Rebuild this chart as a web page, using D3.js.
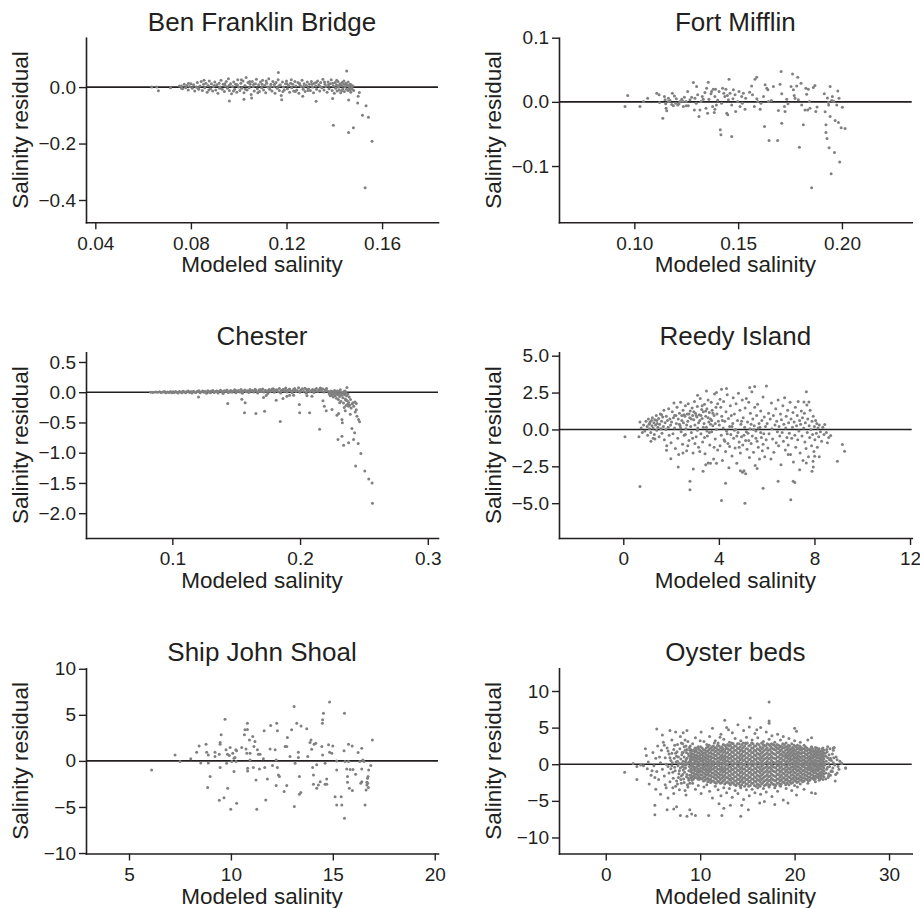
<!DOCTYPE html>
<html><head><meta charset="utf-8">
<script src="https://cdn.jsdelivr.net/npm/d3@7"></script>
<style>
body{margin:0;background:#fff}
svg text{font-family:"Liberation Sans",Arial,Helvetica,sans-serif;fill:#231f20}
</style>
</head><body>
<svg id="chart" width="920" height="908"></svg>
<script>
// ---------- DATA ----------
const titles = ["Ben Franklin Bridge","Fort Mifflin","Chester","Reedy Island","Ship John Shoal","Oyster beds"];
const xLabel = "Modeled salinity";
const yLabel = "Salinity residual";

const benFranklin = [
[0.0636,0.000],[0.0657,0.000],[0.0664,-0.013],[0.0715,-0.002],[0.0752,0.004],[0.0761,-0.004],
[0.0760,0.004],[0.0765,-0.006],[0.0772,0.010],[0.0778,-0.002],[0.0783,0.006],[0.0789,-0.010],[0.0795,0.002],[0.0800,0.012],[0.0806,-0.004],[0.0811,0.008],
[0.0816,-0.014],[0.0822,0.000],[0.0827,0.016],[0.0833,-0.008],[0.0838,0.004],[0.0843,0.020],[0.0848,-0.012],[0.0853,0.010],[0.0858,-0.002],[0.0863,0.014],
[0.0868,-0.018],[0.0872,0.006],[0.0877,0.022],[0.0882,-0.006],[0.0886,0.012],[0.0891,-0.014],[0.0895,0.002],[0.0900,0.018],[0.0904,-0.010],[0.0909,0.008],
[0.0913,-0.022],[0.0918,0.014],[0.0922,0.000],[0.0926,0.024],[0.0931,-0.008],[0.0935,0.010],[0.0940,-0.016],[0.0944,0.004],[0.0948,0.020],[0.0953,-0.004],
[0.0957,0.030],[0.0961,-0.012],[0.0966,0.012],[0.0970,-0.024],[0.0974,0.002],[0.0979,0.018],[0.0983,-0.008],[0.0987,0.010],[0.0992,-0.018],[0.0996,0.026],
[0.1000,0.000],[0.1005,-0.012],[0.1009,0.014],[0.1013,-0.004],[0.1018,0.022],[0.1022,-0.020],[0.1026,0.006],[0.1031,0.034],[0.1035,-0.010],[0.1039,0.016],
[0.1044,-0.002],[0.1048,0.010],[0.1052,-0.026],[0.1057,0.020],[0.1061,0.002],[0.1065,-0.014],[0.1070,0.012],[0.1074,0.028],[0.1078,-0.006],[0.1083,0.008],
[0.1087,-0.016],[0.1091,0.018],[0.1096,-0.002],[0.1100,0.024],[0.1104,-0.010],[0.1109,0.006],[0.1113,-0.020],[0.1117,0.014],[0.1122,0.000],[0.1126,0.030],
[0.1130,-0.008],[0.1135,0.010],[0.1139,-0.014],[0.1143,0.020],[0.1148,0.002],[0.1152,-0.022],[0.1156,0.016],[0.1161,-0.004],[0.1165,0.026],[0.1170,-0.012],
[0.1174,0.008],[0.1178,-0.030],[0.1183,0.018],[0.1187,0.000],[0.1191,-0.010],[0.1196,0.012],[0.1200,0.022],[0.1204,-0.006],[0.1209,0.006],[0.1213,-0.018],
[0.1217,0.014],[0.1222,-0.002],[0.1226,0.010],[0.1230,-0.014],[0.1235,0.020],[0.1239,0.004],[0.1243,-0.010],[0.1248,0.016],[0.1252,-0.022],[0.1256,0.008],
[0.1261,0.002],[0.1265,0.024],[0.1270,-0.008],[0.1274,0.012],[0.1278,-0.016],[0.1283,0.006],[0.1287,0.018],[0.1291,-0.004],[0.1296,0.010],[0.1300,-0.012],
[0.1304,0.020],[0.1309,0.000],[0.1313,-0.020],[0.1317,0.014],[0.1322,0.004],[0.1326,-0.008],[0.1330,0.022],[0.1335,0.008],[0.1339,-0.014],[0.1343,0.016],
[0.1348,-0.002],[0.1352,0.028],[0.1357,-0.010],[0.1361,0.010],[0.1365,0.002],[0.1370,-0.018],[0.1374,0.018],[0.1378,-0.006],[0.1383,0.012],[0.1387,0.026],
[0.1391,-0.012],[0.1396,0.004],[0.1400,-0.022],[0.1403,0.016],[0.1406,-0.004],[0.1409,0.008],[0.1412,-0.014],[0.1415,0.020],[0.1418,0.000],[0.1421,-0.010],
[0.1424,0.012],[0.1427,-0.020],[0.1430,0.006],[0.1433,0.016],[0.1436,-0.006],[0.1439,0.010],[0.1442,-0.016],[0.1445,0.002],[0.1448,0.014],[0.1451,-0.008],
[0.1454,0.006],[0.1457,-0.012],[0.1460,0.004],[0.1463,-0.004],[0.1466,0.010],[0.1469,-0.018],[0.1472,0.000],[0.1475,-0.008],[0.1478,0.004],[0.1481,-0.012],
[0.0790,0.014],[0.0830,-0.004],[0.0855,0.024],[0.0875,-0.010],[0.0898,0.006],[0.0920,-0.004],[0.0942,0.012],[0.0960,0.006],[0.0978,-0.014],[0.0994,0.008],
[0.1011,0.026],[0.1028,-0.008],[0.1046,0.020],[0.1063,0.010],[0.1080,-0.020],[0.1098,0.010],[0.1115,0.022],[0.1133,0.002],[0.1150,0.010],[0.1168,0.004],
[0.1185,-0.016],[0.1202,0.012],[0.1220,0.026],[0.1237,-0.016],[0.1254,0.014],[0.1272,0.002],[0.1290,-0.012],[0.1307,0.010],[0.1324,0.016],[0.1341,0.002],
[0.1359,0.018],[0.1376,0.008],[0.1393,0.014],[0.1410,0.024],[0.1420,0.006],[0.1432,-0.012],[0.1440,0.022],[0.1450,0.010],[0.1458,0.018],[0.1465,-0.010],[0.1470,0.008],
[0.1166,0.052],[0.1452,0.057],[0.0961,-0.049],[0.1022,-0.043],[0.1054,-0.039],[0.1180,-0.045],[0.1268,-0.032],[0.1324,-0.050],[0.1393,-0.040],[0.1460,-0.046],
[0.1500,-0.032],[0.1498,-0.056],[0.1505,-0.019],[0.1533,-0.066],[0.1518,-0.100],[0.1543,-0.107],[0.1396,-0.135],[0.1480,-0.144],[0.1460,-0.161],[0.1558,-0.192],[0.1529,-0.357]
];

const fortMifflin = [
[0.0955,-0.0073],[0.0968,0.0099],[0.1027,-0.0073],[0.1044,0.0005],[0.1064,0.0057],[0.1108,0.0135],[0.1119,0.0109],[0.1121,-0.0010],[0.1137,-0.0254],[0.1145,0.0083],
[0.1148,0.0031],[0.1151,-0.0031],[0.1153,-0.0099],[0.1156,-0.0140],[0.1164,0.0057],[0.1164,0.0005],[0.1183,0.0135],[0.1188,-0.0062],[0.1193,0.0093],[0.1199,-0.0021],
[0.1209,-0.0047],[0.1220,0.0005],[0.1228,0.0042],[0.1236,-0.0073],[0.1241,0.0073],[0.1249,0.0005],[0.1257,0.0161],[0.1260,-0.0062],[0.1268,0.0031],[0.1284,0.0301],
[0.1289,-0.0125],[0.1292,0.0057],[0.1300,0.0239],[0.1305,0.0109],[0.1311,-0.0228],[0.1316,-0.0125],[0.1321,0.0005],[0.1327,0.0083],[0.1340,0.0145],[0.1348,0.0213],
[0.1353,-0.0177],[0.1356,0.0306],[0.1359,0.0042],[0.1369,0.0125],[0.1377,-0.0073],[0.1380,0.0197],[0.1385,-0.0166],[0.1388,0.0083],[0.1388,-0.0114],[0.1391,0.0197],
[0.1401,0.0026],[0.1408,0.0161],[0.1414,-0.0436],[0.1417,-0.0514],[0.1420,-0.0021],[0.1425,0.0213],[0.1431,0.0135],[0.1436,0.0083],[0.1441,0.0197],[0.1445,-0.0177],
[0.1450,-0.0202],[0.1453,0.0031],[0.1456,0.0353],[0.1461,0.0135],[0.1469,-0.0540],[0.1469,-0.0047],[0.1477,0.0187],[0.1485,0.0109],[0.1488,-0.0151],[0.1498,0.0005],
[0.1504,0.0161],[0.1509,-0.0073],[0.1517,0.0083],[0.1525,0.0135],[0.1533,-0.0114],[0.1536,0.0057],[0.1565,0.0249],[0.1569,0.0109],[0.1578,-0.0073],[0.1581,0.0353],
[0.1589,0.0384],[0.1594,0.0005],[0.1606,-0.0114],[0.1610,-0.0021],[0.1622,0.0083],[0.1627,-0.0384],[0.1630,0.0265],[0.1638,0.0213],[0.1643,0.0187],[0.1646,0.0005],
[0.1649,-0.0602],[0.1670,0.0239],[0.1690,-0.0602],[0.1694,-0.0135],[0.1702,0.0275],[0.1707,0.0472],[0.1710,0.0125],[0.1710,-0.0332],[0.1723,-0.0073],[0.1726,-0.0151],
[0.1734,0.0042],[0.1755,0.0239],[0.1762,0.0436],[0.1766,0.0187],[0.1774,0.0057],[0.1782,0.0249],[0.1787,0.0384],[0.1790,0.0031],[0.1795,-0.0706],[0.1803,0.0291],
[0.1806,-0.0047],[0.1814,-0.0358],[0.1822,-0.0125],[0.1826,0.0213],[0.1830,0.0119],[0.1835,-0.0125],[0.1838,0.0197],[0.1843,0.0005],[0.1846,-0.0099],[0.1854,-0.1338],
[0.1862,0.0223],[0.1870,0.0254],[0.1874,-0.0151],[0.1915,0.0125],[0.1919,-0.0156],[0.1923,-0.0358],[0.1923,-0.0478],[0.1928,-0.0571],[0.1935,-0.0010],[0.1936,-0.0047],
[0.1938,-0.0716],[0.1943,0.0239],[0.1943,-0.0228],[0.1948,-0.1120],[0.1951,0.0021],[0.1954,0.0083],[0.1964,-0.0789],[0.1967,-0.0290],[0.1980,0.0171],[0.1983,-0.0322],
[0.1986,0.0057],[0.1989,-0.0939],[0.1996,-0.0405],[0.2002,-0.0083],[0.2015,-0.0415],
[0.1172,0.0020],[0.1180,-0.0040],[0.1202,0.0050],[0.1215,-0.0030],[0.1233,0.0010],[0.1250,-0.0060],[0.1276,0.0070],[0.1298,-0.0020],[0.1332,0.0040],[0.1345,-0.0100],
[0.1372,0.0160],[0.1395,-0.0050],[0.1448,0.0100],[0.1475,0.0050],[0.1520,-0.0020],[0.1555,0.0150],[0.1590,0.0050],[0.1660,0.0020],[0.1740,-0.0030],[0.1770,0.0100],
[0.1880,-0.0080],[0.1930,0.0060],[0.1975,-0.0050],[0.1960,0.0010]
];

const chester = [
[0.0830,0.000],[0.0850,-0.005],[0.0870,0.005],[0.0885,-0.002],[0.0900,0.008],[0.0912,-0.006],[0.0925,0.002],[0.0938,0.010],[0.0950,-0.008],[0.0962,0.004],
[0.0975,-0.003],[0.0985,0.012],[0.0995,-0.010],[0.1005,0.006],[0.1015,-0.004],[0.1025,0.014],[0.1035,0.000],[0.1045,-0.012],[0.1055,0.010],[0.1065,0.004],
[0.1075,-0.008],[0.1085,0.016],[0.1095,0.002],[0.1105,-0.010],[0.1115,0.012],[0.1125,0.020],[0.1135,-0.004],[0.1145,0.008],[0.1155,-0.014],[0.1165,0.018],
[0.1175,0.004],[0.1185,-0.006],[0.1195,0.014],[0.1208,0.024],[0.1218,-0.010],[0.1228,0.006],[0.1238,0.020],[0.1248,-0.002],[0.1258,0.012],[0.1268,-0.016],
[0.1278,0.026],[0.1288,0.004],[0.1298,-0.008],[0.1308,0.016],[0.1318,0.030],[0.1328,-0.004],[0.1338,0.010],[0.1348,0.022],[0.1358,-0.012],[0.1368,0.018],
[0.1378,0.034],[0.1388,0.002],[0.1398,-0.020],[0.1408,0.024],[0.1418,0.010],[0.1428,0.038],[0.1438,-0.006],[0.1448,0.016],[0.1458,0.028],[0.1468,0.000],
[0.1478,0.020],[0.1488,0.040],[0.1498,-0.010],[0.1508,0.014],[0.1518,0.030],[0.1528,0.004],[0.1538,0.046],[0.1548,-0.016],[0.1558,0.022],[0.1568,0.036],
[0.1578,0.008],[0.1588,0.026],[0.1598,-0.006],[0.1608,0.044],[0.1618,0.016],[0.1628,0.030],[0.1638,0.002],[0.1648,0.050],[0.1658,0.020],[0.1668,-0.012],
[0.1678,0.038],[0.1688,0.010],[0.1698,0.028],[0.1708,0.052],[0.1718,0.004],[0.1728,0.034],[0.1738,0.018],[0.1748,-0.020],[0.1758,0.044],[0.1768,0.012],
[0.1778,0.030],[0.1788,0.056],[0.1798,0.000],[0.1808,0.024],[0.1818,0.040],[0.1828,0.010],[0.1838,0.060],[0.1848,-0.014],[0.1858,0.032],[0.1868,0.048],
[0.1878,0.016],[0.1888,0.070],[0.1898,0.004],[0.1908,0.036],[0.1918,0.054],[0.1928,0.020],[0.1938,-0.010],[0.1948,0.044],[0.1958,0.062],[0.1968,0.012],
[0.1978,0.030],[0.1988,0.076],[0.1998,0.000],[0.2008,0.040],[0.2018,0.058],[0.2028,0.018],[0.2038,0.066],[0.2048,-0.016],[0.2058,0.034],[0.2068,0.050],
[0.2078,0.008],[0.2088,0.026],[0.2098,0.044],[0.2108,-0.004],[0.2118,0.030],[0.2128,0.060],[0.2138,0.014],[0.2148,0.040],[0.2158,0.070],[0.2168,0.020],
[0.2178,0.052],[0.2188,0.004],[0.2198,0.036],[0.2208,0.060],[0.2218,0.016],
[0.0940,0.004],[0.1010,-0.002],[0.1080,0.006],[0.1150,0.002],[0.1200,0.010],[0.1250,0.008],[0.1300,0.018],[0.1350,0.006],[0.1400,0.016],[0.1450,0.002],
[0.1500,0.024],[0.1550,0.010],[0.1600,0.020],[0.1650,0.034],[0.1700,0.014],[0.1750,0.026],[0.1800,0.042],[0.1850,0.020],[0.1900,0.028],[0.1950,0.030],
[0.2000,0.020],[0.2050,0.048],[0.2100,0.022],[0.2150,0.028],[0.2200,0.044],[0.2165,0.060],[0.2120,0.046],[0.2060,0.020],[0.1960,0.040],[0.1880,0.036],
[0.1780,0.050],[0.1690,0.046],[0.1610,0.030],
[0.2240,0.02],[0.2245,-0.02],[0.2250,-0.05],[0.2255,0.01],[0.2260,-0.08],[0.2265,-0.03],[0.2270,0.03],[0.2275,-0.06],[0.2280,-0.01],[0.2285,-0.10],
[0.2290,0.02],[0.2295,-0.04],[0.2300,-0.12],[0.2305,-0.02],[0.2310,-0.07],[0.2315,0.04],[0.2320,-0.15],[0.2325,-0.05],[0.2330,-0.01],[0.2335,-0.09],
[0.2340,-0.18],[0.2345,0.01],[0.2350,-0.04],[0.2355,-0.11],[0.2360,-0.22],[0.2365,-0.06],[0.2370,-0.14],[0.2375,-0.03],[0.2380,-0.17],[0.2385,-0.08],
[0.2390,-0.21],[0.2395,-0.12],[0.2400,-0.26],[0.2410,-0.19],[0.2420,-0.23],[0.2430,-0.16],[0.2440,-0.29],[0.2228,-0.03],[0.2232,0.00],[0.2236,-0.06],
[0.2262,0.00],[0.2288,-0.03],[0.2302,0.01],[0.2318,-0.02],[0.2342,-0.03],[0.2352,0.02],[0.2358,-0.01],
[0.1205,-0.077],[0.1434,-0.187],[0.1544,-0.116],[0.1570,-0.176],[0.1565,-0.341],[0.1654,-0.352],[0.1714,-0.088],[0.1722,-0.314],[0.1735,-0.055],[0.1813,-0.132],
[0.1845,-0.484],[0.1866,-0.105],[0.1897,-0.066],[0.1918,-0.050],[0.1950,-0.050],[0.1994,-0.204],[0.1997,-0.341],[0.2054,-0.060],[0.2075,-0.341],[0.2093,-0.066],
[0.2153,-0.611],[0.2179,-0.143],[0.2190,-0.231],[0.2205,-0.308],[0.2250,-0.286],[0.2289,-0.380],[0.2302,-0.352],[0.2297,-0.781],[0.2310,-0.176],[0.2328,-0.451],
[0.2331,-0.506],[0.2328,-0.726],[0.2341,-0.875],[0.2346,-0.253],[0.2354,-0.308],[0.2359,-0.132],[0.2367,0.077],[0.2372,-0.198],[0.2380,-0.836],[0.2380,-0.231],
[0.2393,-0.363],[0.2406,-0.600],[0.2414,-0.176],[0.2419,-0.781],[0.2427,-0.671],[0.2432,-0.325],[0.2440,-0.187],[0.2435,-1.221],[0.2445,-0.396],[0.2455,-0.847],
[0.2458,-0.451],[0.2466,-0.490],[0.2476,-1.012],[0.2507,-1.304],[0.2538,-1.436],[0.2564,-1.502],[0.2567,-1.837]
];

const reedyIsland = [
[0.071,-0.50],[0.656,-0.50],[0.698,-3.86],[0.698,0.50],[1.157,-0.80],[1.324,-0.64],[1.81,-1.41],[1.99,-1.98],[2.30,-2.55],[2.79,-3.52],
[2.79,-4.09],[2.93,-2.68],[3.34,-2.84],[3.55,-2.27],[3.48,2.61],[3.11,2.32],[3.90,2.50],[4.11,2.73],[4.11,-4.82],[4.32,2.77],
[4.28,-3.64],[5.09,-5.00],[4.99,-2.91],[5.29,2.84],[5.50,2.91],[5.99,2.95],[5.85,-3.98],[6.48,-3.52],[6.90,-1.70],[7.01,-4.77],
[7.11,-3.52],[7.18,-3.59],[7.66,2.55],[7.56,1.86],[7.77,1.86],[8.96,-2.16],[9.17,-1.02],[9.26,-1.48],[8.43,0.34],[8.68,-0.41],
[8.54,-0.91],[8.01,-1.82],[7.94,-2.16],[7.90,-2.84],[7.66,-2.27],[7.38,-2.73],
[0.85,0.30],[0.90,-0.10],[0.95,0.55],[1.00,0.20],[1.02,-0.40],[1.05,0.70],[1.08,0.35],[1.10,0.05],[1.12,0.50],[1.15,-0.20],
[1.18,0.60],[1.20,0.25],[1.22,0.80],[1.25,0.10],[1.28,0.45],[1.30,-0.35],[1.32,0.65],[1.35,0.30],[1.38,0.95],[1.40,-0.05],
[1.42,0.40],[1.45,0.15],[1.48,0.75],[1.50,-0.50],[1.52,0.35],[1.55,1.05],[1.58,0.05],[1.60,0.55],[1.62,-0.25],[1.65,0.85],
[1.68,0.20],[1.70,1.30],[1.72,-0.70],[1.75,0.45],[1.78,0.00],[1.80,0.90],[1.82,-1.10],[1.85,0.60],[1.88,0.15],[1.90,1.40],
[1.92,-0.40],[1.95,0.70],[1.98,0.30],[2.00,-0.90],[1.25,-0.60],[1.40,0.60],[1.60,1.00],[1.10,0.40],[0.75,0.10],[0.80,-0.20],
[2.02,0.50],[2.05,1.20],[2.08,-0.30],[2.10,0.80],[2.12,1.80],[2.15,0.10],[2.18,-1.30],[2.20,0.95],[2.22,0.40],[2.25,1.50],
[2.28,-0.60],[2.30,0.70],[2.32,-1.70],[2.35,1.10],[2.38,0.25],[2.40,1.85],[2.42,-0.15],[2.45,0.60],[2.48,-1.00],[2.50,1.30],
[2.52,0.45],[2.55,-0.40],[2.58,0.90],[2.60,1.60],[2.62,0.05],[2.65,-1.45],[2.68,1.05],[2.70,0.55],[2.72,1.75],[2.75,-0.75],
[2.78,0.80],[2.80,1.25],[2.82,0.20],[2.85,-0.20],[2.88,1.45],[2.90,0.95],[2.92,-1.60],[2.95,0.65],[2.98,1.90],[3.00,0.30],
[3.02,1.10],[3.05,-0.50],[3.08,0.85],[3.10,1.55],[3.12,0.10],[3.15,-1.20],[3.18,1.00],[3.20,0.60],[3.22,2.10],[3.25,-0.30],
[3.28,1.35],[3.30,0.75],[3.32,-0.85],[3.35,1.20],[3.38,0.40],[3.40,1.70],[3.42,-1.65],[3.45,0.90],[3.48,0.15],[3.50,1.40],
[3.52,-0.45],[3.55,2.00],[3.58,0.50],[3.60,1.15],[3.62,-1.05],[3.65,0.70],[3.68,1.85],[3.70,-0.15],[3.72,1.30],[3.75,0.25],
[3.78,-2.00],[3.80,0.95],[3.82,2.40],[3.85,-0.65],[3.88,1.50],[3.90,0.00],[3.92,1.05],[3.95,-1.40],[3.98,0.55],
[2.15,0.95],[2.35,0.35],[2.55,1.00],[2.75,1.05],[2.85,0.70],[2.95,1.20],[3.05,0.95],[3.15,0.45],[3.25,0.95],[3.35,0.15],
[3.45,1.25],[3.55,0.80],[3.65,0.35],[3.75,1.10],[3.85,0.40],[2.65,0.30],[2.45,0.95],[3.10,-0.05],[3.30,1.60],[3.50,-0.10],
[3.70,0.60],[2.90,-0.60],[3.00,-0.95],[3.20,-1.50],[3.40,-0.55],[3.60,-0.20],[3.80,-1.20],[2.70,-1.10],[2.50,-1.60],[3.90,-2.30],
[3.65,-2.30],[2.40,0.10],[2.60,-0.35],[3.95,1.75],[3.45,-2.40],
[4.02,0.30],[4.05,-1.10],[4.08,1.50],[4.10,-0.40],[4.12,0.90],[4.15,-2.10],[4.18,0.10],[4.20,1.90],[4.22,-0.70],[4.25,0.55],
[4.28,-1.50],[4.30,1.20],[4.32,-0.10],[4.35,2.35],[4.38,-0.95],[4.40,0.75],[4.42,-2.60],[4.45,0.20],[4.48,1.60],[4.50,-0.35],
[4.52,0.95],[4.55,-1.80],[4.58,0.40],[4.60,2.15],[4.62,-0.60],[4.65,1.05],[4.68,-1.25],[4.70,0.00],[4.72,1.75],[4.75,-2.30],
[4.78,0.60],[4.80,-0.20],[4.82,2.45],[4.85,-0.85],[4.88,1.30],[4.90,-1.60],[4.92,0.35],[4.95,-0.50],[4.98,2.00],[5.00,-1.05],
[5.02,0.80],[5.05,-2.80],[5.08,0.15],[5.10,1.45],[5.12,-0.75],[5.15,2.10],[5.18,-1.35],[5.20,0.50],[5.22,-0.25],[5.25,1.85],
[5.28,-1.90],[5.30,0.05],[5.32,1.10],[5.35,-0.95],[5.38,2.55],[5.40,-0.45],[5.42,0.70],[5.45,-1.55],[5.48,0.25],[5.50,1.50],
[5.52,-2.45],[5.55,-0.10],[5.58,0.95],[5.60,-0.80],[5.62,1.70],[5.65,-1.20],[5.68,0.40],[5.70,-2.00],[5.72,0.15],[5.75,1.25],
[5.78,-0.55],[5.80,0.60],[5.82,-1.45],[5.85,2.20],[5.88,-0.30],[5.90,0.85],[5.92,-1.85],[5.95,0.20],[5.98,-0.70],
[4.15,0.60],[4.35,-0.30],[4.55,0.20],[4.75,-0.45],[4.95,0.55],[5.15,-0.15],[5.35,0.35],[5.55,-0.60],[5.75,-0.20],[4.25,-0.80],
[4.45,-1.15],[4.65,-0.05],[4.85,-1.20],[5.05,-0.40],[5.25,-0.75],[5.45,0.00],[5.65,0.10],[5.85,-1.00],[4.05,2.05],[5.60,-2.65],
[5.12,-3.00],[4.90,-2.80],
[6.02,0.40],[6.05,-1.25],[6.08,1.10],[6.10,-0.30],[6.15,0.70],[6.18,-2.00],[6.20,1.80],[6.22,0.05],[6.25,-0.65],[6.28,0.95],
[6.30,-1.55],[6.35,0.30],[6.38,1.40],[6.40,-0.90],[6.42,0.55],[6.45,-0.15],[6.48,2.00],[6.50,-1.10],[6.52,0.20],[6.55,-0.45],
[6.58,1.05],[6.60,-2.40],[6.62,0.65],[6.65,-0.20],[6.68,1.60],[6.70,-0.80],[6.72,0.35],[6.75,2.15],[6.78,-1.40],[6.80,0.10],
[6.82,0.90],[6.85,-0.55],[6.88,1.30],[6.90,-1.05],[6.92,0.45],[6.95,-0.25],[6.98,1.85],[7.00,-1.70],[7.02,0.70],[7.05,-0.60],
[7.08,0.15],[7.10,1.15],[7.12,-2.20],[7.15,0.50],[7.18,-0.40],[7.20,1.50],[7.22,-1.20],[7.25,0.25],[7.28,0.95],[7.30,-0.70],
[7.32,1.90],[7.35,-0.10],[7.38,0.60],[7.40,-1.60],[7.42,0.35],[7.45,1.25],[7.48,-0.45],[7.50,0.80],[7.52,-2.10],[7.55,0.10],
[7.58,1.10],[7.60,-0.85],[7.62,0.45],[7.65,-1.30],[7.68,1.65],[7.70,-0.20],[7.72,0.70],[7.75,-1.85],[7.78,0.25],[7.80,-0.55],
[7.82,1.30],[7.85,0.00],[7.88,-1.10],[7.90,0.55],[7.92,-0.35],[7.95,0.90],[7.98,-1.50],[8.00,0.20],[8.02,-0.70],[8.05,0.60],
[8.08,-0.25],[8.10,0.40],[8.12,-1.20],[8.15,0.10],[8.18,-0.50],[8.20,0.30],[8.25,-0.15],[8.30,-0.80],[8.35,0.15],[8.40,-0.35],
[8.50,-0.20],[8.60,-0.55],[8.20,-1.85],[7.95,-2.55]
];

const shipJohnShoal = [
[6.11,-0.98],[7.26,0.65],[7.50,-0.07],[8.03,0.22],[8.32,0.94],[8.44,1.63],[8.52,-0.22],[8.78,1.81],[8.81,0.94],[8.89,0.65],
[8.89,-0.22],[8.86,-2.90],[8.98,-1.70],[9.22,0.94],[9.22,0.47],[9.43,0.72],[9.47,1.81],[9.47,1.99],[9.52,2.83],[9.47,-0.72],
[9.43,-4.28],[9.66,-3.99],[9.71,4.53],[9.76,1.20],[9.83,0.72],[9.79,-0.25],[9.84,-2.97],[9.92,0.58],[9.96,1.45],[9.99,-5.25],
[10.04,-0.07],[10.09,0.83],[10.15,-1.16],[10.20,0.36],[10.24,1.20],[10.28,-4.60],[10.28,1.09],[10.53,1.45],[10.66,2.83],[10.69,3.37],
[10.74,1.30],[10.78,0.83],[10.81,4.09],[10.81,3.41],[10.82,-1.09],[10.82,-0.80],[10.91,2.28],[10.94,0.83],[11.07,2.64],[11.10,-0.72],
[11.13,1.56],[11.18,2.10],[11.23,-2.07],[11.27,-5.25],[11.30,1.20],[11.35,0.72],[11.40,-0.87],[11.43,0.72],[11.59,0.22],[11.63,3.26],
[11.66,-0.72],[11.71,-4.24],[11.79,-1.96],[11.92,1.30],[11.95,3.84],[12.04,-0.51],[12.17,1.20],[12.22,0.11],[12.25,4.09],[12.28,3.26],
[12.28,-0.72],[12.33,-1.52],[12.38,-1.70],[12.22,-2.68],[12.61,-3.33],[12.74,-2.68],[12.66,1.56],[12.74,1.56],[12.77,2.54],[12.90,0.47],
[12.98,3.37],[13.10,5.91],[13.11,-4.96],[13.15,-0.25],[13.23,4.09],[13.31,0.94],[13.31,0.36],[13.36,-1.70],[13.36,-3.62],[13.43,-3.44],
[13.44,3.80],[13.72,3.48],[13.77,0.47],[13.88,1.99],[13.93,2.28],[13.96,1.27],[14.01,-0.72],[14.05,-1.52],[14.05,-2.54],[14.08,1.81],
[14.16,1.92],[14.21,-0.43],[14.21,-2.97],[14.29,-2.61],[14.38,-2.25],[14.46,1.56],[14.49,4.09],[14.50,0.65],[14.50,4.46],[14.54,5.18],
[14.62,-0.25],[14.62,-2.54],[14.70,-2.54],[14.70,-1.96],[14.79,1.74],[14.84,6.38],[14.84,0.94],[14.95,0.83],[15.00,1.63],[15.19,-0.98],
[15.19,0.00],[15.11,-3.88],[15.19,-4.78],[15.41,-3.88],[15.44,-4.78],[15.55,1.09],[15.57,5.18],[15.57,-6.23],[15.60,-0.07],[15.68,-0.87],
[15.72,-1.70],[15.72,-2.32],[15.77,1.81],[15.77,-0.07],[15.81,-2.97],[15.85,-0.94],[15.95,1.63],[15.96,-3.22],[15.99,-0.94],[16.12,-1.45],
[16.24,0.91],[16.32,-0.07],[16.37,-2.43],[16.42,1.38],[16.42,-0.87],[16.42,-2.25],[16.47,0.11],[16.53,-0.07],[16.58,-4.78],[16.63,-3.15],
[16.67,-2.32],[16.67,-2.61],[16.70,-1.88],[16.73,-1.70],[16.76,-0.98],[16.86,-0.51],[16.94,2.28],[16.71,-2.43],[16.74,-2.90],[10.94,0.11],
[10.25,-0.07],[10.15,0.29]
];

// Oyster beds: dense core listed column by column (x, then its y values), plus surrounding points
const oysterCoreX = [9.0,9.3,9.6,9.9,10.2,10.5,10.8,11.1,11.4,11.7,12.0,12.3,12.6,12.9,13.2,13.5,13.8,14.1,14.4,14.7,15.0,15.3,15.6,15.9,
16.2,16.5,16.8,17.1,17.4,17.7,18.0,18.3,18.6,18.9,19.2,19.5,19.8,20.1,20.4,20.7,21.0,21.3,21.6,21.9,22.2,22.5,22.8,23.1];
const oysterCoreY = [
[-1.9,-1.5,-1.0,-0.6,-0.1,0.3,0.8,1.2,1.6,2.0],[-2.0,-1.6,-1.2,-0.7,-0.3,0.1,0.6,1.0,1.4,1.9],[-1.8,-1.3,-0.9,-0.4,0.0,0.5,0.9,1.3,1.8,2.1],
[-2.1,-1.7,-1.1,-0.8,-0.2,0.2,0.7,1.1,1.5,2.0],[-2.0,-1.5,-1.0,-0.5,-0.1,0.4,0.8,1.3,1.7,2.2],[-2.2,-1.7,-1.3,-0.8,-0.3,0.1,0.6,1.0,1.5,1.9],
[-2.4,-1.9,-1.3,-0.8,-0.3,0.2,0.7,1.2,1.8,2.4],[-2.5,-2.0,-1.5,-0.9,-0.4,0.1,0.6,1.1,1.6,2.2],[-2.3,-1.7,-1.2,-0.6,-0.1,0.4,0.9,1.4,2.0,2.5],
[-2.6,-2.0,-1.5,-1.0,-0.4,0.1,0.7,1.2,1.8,2.3],[-2.4,-1.8,-1.3,-0.7,-0.2,0.3,0.8,1.4,1.9,2.5],[-2.5,-1.9,-1.4,-0.8,-0.3,0.2,0.8,1.3,1.9,2.4],
[-2.7,-2.1,-1.5,-0.9,-0.4,0.2,0.7,1.2,1.8,2.6],[-2.4,-1.8,-1.2,-0.6,-0.1,0.5,1.0,1.6,2.1,2.7],[-2.8,-2.2,-1.6,-1.0,-0.4,0.2,0.8,1.4,2.0,2.6],
[-2.6,-2.0,-1.4,-0.8,-0.2,0.4,1.0,1.6,2.2,2.8],[-2.9,-2.3,-1.7,-1.1,-0.5,0.1,0.7,1.3,1.9,2.5],[-2.7,-2.1,-1.5,-0.9,-0.3,0.3,0.9,1.5,2.1,2.8],
[-2.8,-2.2,-1.6,-1.0,-0.4,0.2,0.8,1.4,2.0,2.7],[-3.0,-2.4,-1.8,-1.2,-0.6,0.0,0.6,1.2,1.8,2.5],[-2.7,-2.1,-1.5,-0.9,-0.3,0.3,0.9,1.5,2.1,2.9],
[-2.9,-2.3,-1.7,-1.1,-0.5,0.1,0.7,1.3,1.9,2.6],[-2.6,-2.0,-1.4,-0.8,-0.2,0.4,1.0,1.6,2.2,2.8],[-3.0,-2.4,-1.8,-1.2,-0.6,0.0,0.6,1.2,1.8,2.5],
[-2.8,-2.2,-1.6,-1.0,-0.4,0.2,0.8,1.4,2.0,2.7],[-2.7,-2.1,-1.5,-0.9,-0.3,0.3,0.9,1.5,2.1,2.9],[-2.9,-2.3,-1.7,-1.1,-0.5,0.1,0.7,1.3,1.9,2.6],
[-2.6,-2.0,-1.4,-0.8,-0.2,0.4,1.0,1.6,2.2,2.8],[-2.8,-2.2,-1.6,-1.0,-0.4,0.2,0.8,1.4,2.0,2.5],[-2.7,-2.1,-1.5,-0.9,-0.3,0.3,0.9,1.5,2.1,2.7],
[-2.9,-2.3,-1.7,-1.1,-0.5,0.1,0.7,1.3,1.9,2.4],[-2.6,-2.0,-1.4,-0.8,-0.2,0.4,1.0,1.6,2.1,2.6],[-2.7,-2.1,-1.5,-0.9,-0.3,0.3,0.9,1.4,2.0,2.5],
[-2.5,-1.9,-1.3,-0.7,-0.1,0.5,1.1,1.6,2.2,2.7],[-2.6,-2.0,-1.4,-0.8,-0.2,0.4,1.0,1.5,2.0,2.4],[-2.4,-1.8,-1.2,-0.7,-0.1,0.4,0.9,1.4,1.9,2.5],
[-2.5,-1.9,-1.4,-0.8,-0.3,0.2,0.7,1.3,1.8,2.3],[-2.3,-1.8,-1.2,-0.7,-0.2,0.3,0.8,1.3,1.8,2.4],[-2.4,-1.9,-1.3,-0.8,-0.3,0.2,0.7,1.2,1.7,2.2],
[-2.2,-1.7,-1.2,-0.6,-0.1,0.4,0.9,1.4,1.9,2.3],[-2.3,-1.8,-1.3,-0.8,-0.3,0.2,0.6,1.1,1.6,2.1],[-2.1,-1.6,-1.1,-0.6,-0.1,0.3,0.8,1.3,1.8,2.2],
[-2.2,-1.7,-1.2,-0.7,-0.2,0.2,0.7,1.1,1.6,2.0],[-1.9,-1.5,-1.0,-0.6,-0.1,0.3,0.8,1.2,1.7,2.1],[-2.0,-1.6,-1.1,-0.7,-0.2,0.2,0.6,1.1,1.5,1.9],
[-1.8,-1.4,-0.9,-0.5,-0.1,0.4,0.8,1.2,1.6,2.0],[-1.9,-1.5,-1.1,-0.6,-0.2,0.2,0.6,1.0,1.4,1.8],[-1.7,-1.3,-0.9,-0.5,-0.1,0.3,0.7,1.1,1.5,1.9]
];
const oysterCoreX2 = [9.15,9.45,9.75,10.05,10.35,10.65,10.95,11.25,11.55,11.85,12.15,12.45,12.75,13.05,13.35,13.65,13.95,14.25,14.55,14.85,15.15,15.45,
15.75,16.05,16.35,16.65,16.95,17.25,17.55,17.85,18.15,18.45,18.75,19.05,19.35,19.65,19.95,20.25,20.55,20.85,21.15,21.45,21.75,22.05,22.35,22.65,22.95];
const oysterCoreY2 = [
[-1.7,-1.2,-0.8,-0.3,0.1,0.6,1.0,1.4,1.8,-2.2],[-1.8,-1.4,-0.9,-0.5,0.2,0.4,0.8,1.2,1.7,2.2],[-2.0,-1.5,-1.1,-0.6,-0.2,0.3,0.7,1.1,1.6,2.3],
[-1.9,-1.4,-0.9,-0.5,0.0,0.5,0.9,1.3,1.8,2.4],[-2.3,-1.8,-1.2,-0.7,-0.3,0.2,0.6,1.1,1.5,2.0],[-2.0,-1.5,-1.0,-0.6,-0.1,0.4,0.9,1.3,1.7,2.2],
[-2.2,-1.6,-1.1,-0.6,-0.1,0.4,1.0,1.5,2.0,2.6],[-2.3,-1.7,-1.2,-0.7,-0.2,0.3,0.9,1.4,1.9,2.4],[-2.5,-1.9,-1.4,-0.9,-0.4,0.2,0.7,1.2,1.7,2.2],
[-2.3,-1.7,-1.2,-0.7,-0.1,0.4,0.9,1.5,2.0,2.6],[-2.6,-2.1,-1.5,-1.0,-0.5,0.1,0.6,1.1,1.7,2.2],[-2.3,-1.7,-1.1,-0.6,0.0,0.5,1.0,1.6,2.1,2.7],
[-2.5,-1.8,-1.2,-0.7,-0.1,0.4,1.0,1.5,2.1,2.4],[-2.6,-2.0,-1.5,-0.9,-0.3,0.3,0.8,1.3,1.9,2.5],[-2.5,-1.9,-1.3,-0.7,-0.1,0.5,1.1,1.7,2.3,2.9],
[-2.8,-2.3,-1.7,-1.1,-0.5,0.1,0.7,1.3,1.9,2.5],[-2.6,-2.0,-1.4,-0.8,-0.2,0.4,1.0,1.6,2.2,2.8],[-3.0,-2.4,-1.8,-1.2,-0.6,0.0,0.6,1.2,1.8,2.4],
[-2.5,-1.9,-1.3,-0.7,-0.1,0.5,1.1,1.7,2.3,2.9],[-2.7,-2.1,-1.5,-0.9,-0.3,0.3,0.9,1.5,2.1,2.8],[-3.0,-2.4,-1.8,-1.2,-0.6,0.0,0.6,1.2,1.8,2.5],
[-2.6,-2.0,-1.4,-0.8,-0.2,0.4,1.0,1.6,2.2,2.9],[-2.9,-2.3,-1.7,-1.1,-0.5,0.1,0.7,1.3,1.9,2.5],[-2.7,-2.1,-1.5,-0.9,-0.3,0.3,0.9,1.5,2.1,2.8],
[-3.0,-2.4,-1.8,-1.2,-0.6,0.0,0.6,1.2,1.8,2.4],[-2.5,-1.9,-1.3,-0.7,-0.1,0.5,1.1,1.7,2.3,2.7],[-2.8,-2.2,-1.6,-1.0,-0.4,0.2,0.8,1.4,2.0,2.5],
[-2.9,-2.3,-1.7,-1.1,-0.5,0.1,0.7,1.3,1.9,2.7],[-2.5,-1.9,-1.3,-0.7,-0.1,0.5,1.1,1.7,2.3,2.8],[-2.8,-2.2,-1.6,-1.0,-0.4,0.2,0.8,1.4,2.0,2.6],
[-2.6,-2.0,-1.4,-0.8,-0.2,0.4,1.0,1.6,2.2,2.7],[-2.9,-2.3,-1.7,-1.1,-0.5,0.1,0.7,1.3,1.8,2.4],[-2.4,-1.8,-1.2,-0.6,0.0,0.6,1.2,1.7,2.3,2.8],
[-2.8,-2.2,-1.6,-1.0,-0.4,0.2,0.8,1.3,1.9,2.4],[-2.3,-1.7,-1.1,-0.5,0.1,0.7,1.2,1.7,2.2,2.6],[-2.6,-2.1,-1.5,-1.0,-0.4,0.1,0.6,1.1,1.6,2.1],
[-2.2,-1.6,-1.1,-0.5,0.0,0.5,1.0,1.5,2.0,2.6],[-2.5,-2.0,-1.5,-0.9,-0.4,0.0,0.5,1.0,1.5,2.1],[-2.1,-1.6,-1.0,-0.5,0.0,0.5,1.0,1.5,2.0,2.5],
[-2.4,-1.9,-1.4,-0.9,-0.3,0.1,0.6,1.1,1.6,2.1],[-2.0,-1.5,-1.0,-0.5,0.0,0.4,0.9,1.4,1.9,2.4],[-2.3,-1.8,-1.3,-0.8,-0.4,0.0,0.5,1.0,1.5,2.0],
[-1.9,-1.4,-0.9,-0.4,0.1,0.5,0.9,1.4,1.8,2.3],[-2.1,-1.7,-1.2,-0.8,-0.3,0.1,0.5,1.0,1.4,1.8],[-1.7,-1.3,-0.8,-0.4,0.0,0.4,0.9,1.3,1.7,2.2],
[-2.0,-1.6,-1.2,-0.7,-0.3,0.1,0.5,0.9,1.3,1.7],[-1.6,-1.2,-0.8,-0.3,0.1,0.5,0.9,1.3,1.7,2.1]
];
const oysterOuter = [
[4.2,2.1],[4.3,1.2],[4.5,0.3],[4.4,-0.6],[4.8,-1.5],[4.6,-2.7],[5.0,1.6],[5.1,-0.2],[5.3,0.8],[5.4,-1.0],[5.5,2.5],[5.6,-2.1],[5.8,0.2],[5.9,1.9],
[6.0,-0.7],[6.1,3.0],[6.2,-1.6],[6.3,0.9],[6.4,-3.2],[6.5,2.2],[6.6,-0.3],[6.7,1.4],[6.8,-2.4],[6.9,0.5],[7.0,3.3],[7.1,-1.1],[7.2,2.0],[7.3,-0.4],
[7.4,-3.0],[7.5,1.1],[7.6,2.7],[7.7,-1.8],[7.8,0.1],[7.9,3.8],[8.0,-2.6],[8.1,1.6],[8.2,-0.8],[8.3,2.4],[8.4,-3.6],[8.5,0.6],[8.6,-1.4],[8.7,3.1],
[8.8,-2.2],[8.9,1.9],[6.0,4.0],[6.8,4.6],[7.4,4.4],[8.2,4.3],[8.6,4.6],[7.2,-4.0],[7.8,-3.5],[8.5,-4.2],[6.6,-4.6],[5.3,-3.4],[5.8,-4.1],[4.9,-0.9],
[5.7,1.0],[6.4,0.0],[7.0,-0.2],[7.6,0.4],[8.3,-0.1],[8.8,0.3],[6.2,2.6],[5.2,-1.8],[4.0,-0.2],[3.3,-0.3],[2.9,0.1],[3.7,-0.1],[7.1,-3.2],[6.3,-2.8],
[6.6,1.8],[6.7,-1.2],[6.8,0.9],[6.9,-0.6],[7.0,1.5],[7.05,0.2],[7.15,-1.9],[7.25,0.8],[7.3,2.6],[7.35,-0.9],[7.45,0.3],[7.5,-2.3],[7.55,1.7],[7.65,-0.2],
[7.7,1.0],[7.75,-1.3],[7.85,2.1],[7.9,-0.5],[7.95,0.7],[8.0,-1.6],[8.05,1.3],[8.1,-0.3],[8.15,2.8],[8.2,0.4],[8.25,-2.0],[8.3,1.0],[8.35,-1.1],[8.4,1.9],
[8.45,-0.5],[8.5,2.5],[8.55,-1.7],[8.6,0.8],[8.65,-2.8],[8.7,0.1],[8.75,1.4],[8.8,-0.9],[8.85,2.3],[8.9,-1.5],[8.95,0.6],[8.7,-3.1],[8.4,3.3],[8.0,2.9],
[7.6,-2.7],[8.9,-2.6],[8.6,2.0],[8.3,-2.5],[8.8,1.1],[8.5,-0.1],[8.2,1.6],[7.8,-0.9],[7.4,1.5],[8.95,2.5],[8.85,-0.3],[8.75,-1.9],[8.55,1.6],[8.45,0.3],
[8.35,-0.5],[8.15,-1.4],[8.05,0.1],[7.95,-2.1],
[9.2,2.8],[9.5,3.6],[9.8,2.4],[10.1,4.4],[10.4,3.1],[10.7,2.7],[11.0,3.8],[11.3,4.9],[11.6,3.2],[11.9,2.9],[12.2,4.1],[12.5,3.4],[12.8,5.0],[13.1,3.0],
[13.4,4.3],[13.7,3.5],[14.0,5.4],[14.3,3.2],[14.6,4.6],[14.9,3.7],[15.2,5.1],[15.5,3.3],[15.8,4.2],[16.1,3.6],[16.4,5.0],[16.7,3.1],[17.0,4.4],[17.3,3.4],
[17.6,3.9],[17.9,3.0],[18.2,4.1],[18.5,3.3],[18.8,3.8],[19.1,2.9],[19.4,3.5],[19.7,2.8],[20.0,3.2],[20.3,2.6],[20.6,3.0],[21.0,2.6],[21.4,3.3],[21.8,2.4],
[22.2,2.3],[22.6,2.1],[23.0,2.2],[24.2,2.3],[24.1,1.9],[12.1,3.7],[13.0,4.7],[14.8,2.9],[16.0,4.7],[10.0,3.2],[11.5,2.9],
[9.2,-2.6],[9.5,-3.4],[9.8,-2.9],[10.1,-4.0],[10.4,-3.1],[10.7,-2.8],[11.0,-3.7],[11.3,-4.6],[11.6,-3.0],[11.9,-3.5],[12.2,-4.3],[12.5,-3.2],[12.8,-3.9],
[13.1,-3.3],[13.4,-4.5],[13.7,-3.6],[14.0,-4.0],[14.3,-3.2],[14.6,-4.8],[14.9,-3.5],[15.2,-4.3],[15.5,-3.4],[15.8,-3.9],[16.1,-3.2],[16.4,-4.1],[16.7,-3.3],
[17.0,-3.8],[17.3,-3.1],[17.6,-4.4],[17.9,-3.2],[18.2,-3.7],[18.5,-3.0],[18.8,-4.9],[19.1,-3.3],[19.4,-2.8],[19.7,-3.6],[20.0,-2.9],[20.3,-3.1],[20.6,-2.7],
[21.0,-3.4],[21.4,-2.6],[21.8,-3.9],[22.2,-2.4],[22.6,-2.2],[23.0,-2.1],[23.6,-1.6],[24.0,-1.0],[24.3,-2.3],[12.0,-5.4],[14.4,-5.6],[16.8,-5.1],
[23.3,1.1],[23.5,-0.4],[23.7,0.6],[23.9,-0.9],[24.1,0.2],[24.4,1.0],[24.6,-0.3],[24.8,0.4],[25.0,0.1],[25.4,-0.5],[23.4,2.0],[23.8,-1.5],[24.5,-1.2],[23.2,-0.1],
[23.25,1.5],[23.3,-1.2],[23.35,0.4],[23.4,-0.7],[23.45,1.7],[23.5,0.9],[23.55,-1.8],[23.6,0.1],[23.65,1.3],[23.7,-0.3],[23.75,2.1],[23.8,0.8],[23.85,-1.0],
[23.9,0.5],[24.0,1.4],[24.05,-0.5],[24.15,0.9],[24.25,-0.1],[24.35,-1.4],[24.5,0.6],[24.7,-0.7],[23.3,-2.0],[23.5,2.4],[23.6,-1.3],
[17.3,8.5],[17.3,5.9],[17.3,5.6],[15.3,6.3],[12.6,6.0],[5.4,4.8],[2.0,-1.1],[3.3,-2.1],[5.2,-5.6],[5.2,-6.9],[6.5,-6.2],[7.2,-6.1],[7.5,-5.8],[7.9,-7.0],
[8.6,-7.1],[8.9,-6.2],[9.1,-6.8],[9.5,-7.0],[10.9,-7.0],[12.3,-7.0],[12.5,-6.0],[13.2,-5.6],[14.3,-7.1],[15.1,-6.2],[16.3,-5.3],[17.9,-5.5],[19.3,-5.3],
[22.2,-4.0],[20.2,-4.2],[25.0,0.1],[25.4,-0.5],[24.1,2.2],[21.8,3.6],[20.0,4.9],[20.2,4.5]
];
const oysterBeds = oysterCoreX.flatMap((x,i)=>oysterCoreY[i].map(y=>[x,y]))
  .concat(oysterCoreX2.flatMap((x,i)=>oysterCoreY2[i].map(y=>[x,y])))
  .concat(oysterOuter);

// axis domains and tick labels
const xDomains = [[0.0361,0.1834],[0.0637,0.2336],[0.0324,0.308],[-2.69,12.07],[2.89,20.16],[-4.95,32.4]];
const yDomains = [[-0.479,0.175],[-0.1877,0.1],[-2.41,0.66],[-7.36,5.23],[-10.05,10.05],[-12.19,13.1]];
const xTicks = [[0.04,0.08,0.12,0.16],[0.10,0.15,0.20],[0.1,0.2,0.3],[0,4,8,12],[5,10,15,20],[0,10,20,30]];
const yTicks = [[0,-0.2,-0.4],[0.1,0,-0.1],[0.5,0,-0.5,-1,-1.5,-2],[5,2.5,0,-2.5,-5],[10,5,0,-5,-10],[10,5,0,-5,-10]];
const xFormats = [".2f",".2f",".1f","d","d","d"];
const yFormats = [".1f",".1f",".1f",".1f","d","d"];
const seriesData = [benFranklin,fortMifflin,chester,reedyIsland,shipJohnShoal,oysterBeds];

// ---------- LAYOUT ----------
const cols = [[86,438],[559,911.7]];
const rows = [[37.7,222.3],[352.3,538],[668.3,853.5]];
const ink = "#231f20";
const svg = d3.select("#chart");

titles.forEach((title,i)=>{
  const [x0,x1] = cols[i%2], [y0,y1] = rows[Math.floor(i/2)];
  const x = d3.scaleLinear().domain(xDomains[i]).range([x0,x1]);
  const y = d3.scaleLinear().domain(yDomains[i]).range([y1,y0]);
  const g = svg.append("g");

  g.append("line").attr("x1",x0).attr("x2",x1).attr("y1",y(0)).attr("y2",y(0))
    .attr("stroke",ink).attr("stroke-width",1.6);

  g.append("g").selectAll("circle").data(seriesData[i]).join("circle")
    .attr("cx",d=>x(d[0])).attr("cy",d=>y(d[1])).attr("r",1.5).attr("fill","#808080");

  const xa = g.append("g").attr("transform",`translate(0,${y1})`)
    .call(d3.axisBottom(x).tickValues(xTicks[i]).tickFormat(d3.format(xFormats[i])).tickSize(7).tickSizeOuter(0).tickPadding(7));
  const ya = g.append("g").attr("transform",`translate(${x0},0)`)
    .call(d3.axisLeft(y).tickValues(yTicks[i]).tickFormat(d3.format(yFormats[i])).tickSize(7).tickSizeOuter(0).tickPadding(3));
  [xa,ya].forEach(a=>{
    a.select(".domain").attr("stroke",ink).attr("stroke-width",1.6).attr("stroke-linecap","square");
    a.selectAll(".tick line").attr("stroke",ink).attr("stroke-width",1.4);
    a.selectAll(".tick text").attr("fill",ink).style("font-size","19px").style("font-family",'"Liberation Sans",Arial,sans-serif');
  });

  g.append("text").attr("x",(x0+x1)/2).attr("y",y0-7).attr("text-anchor","middle")
    .style("font-size","26px").text(title);
  g.append("text").attr("x",(x0+x1)/2).attr("y",y1+50).attr("text-anchor","middle")
    .style("font-size","22.5px").text(xLabel);
  g.append("text").attr("transform",`translate(${x0-58},${(y0+y1)/2}) rotate(-90)`).attr("text-anchor","middle")
    .style("font-size","22.5px").text(yLabel);
});
</script>
</body></html>
